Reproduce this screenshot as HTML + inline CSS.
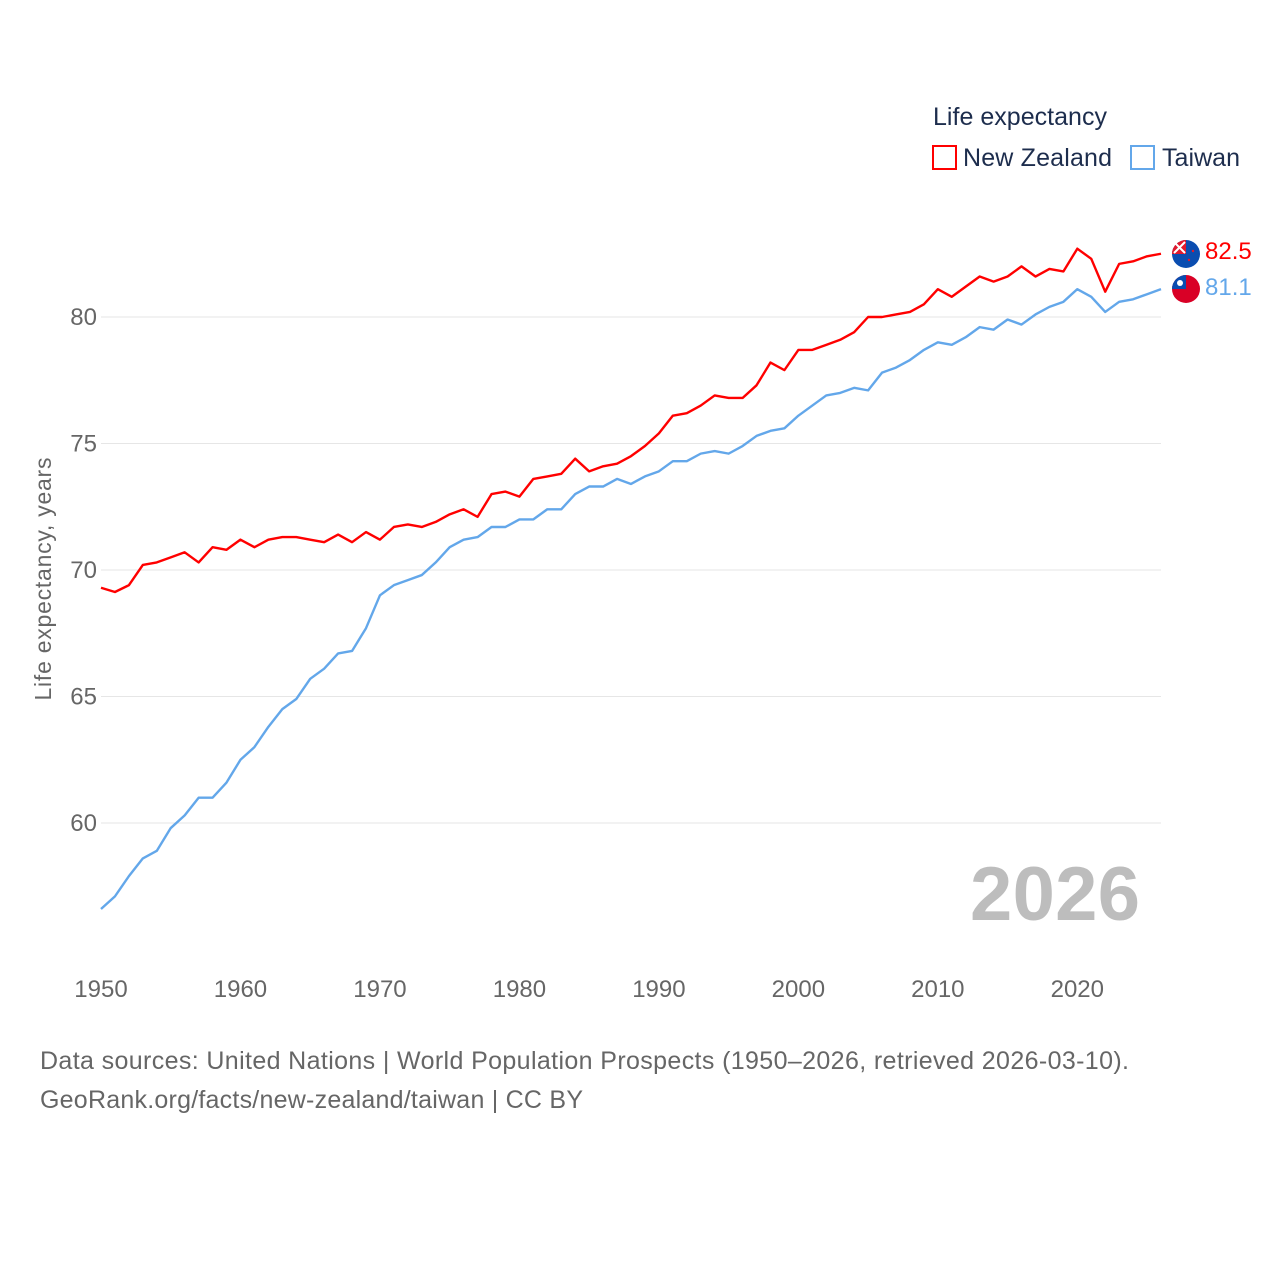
<!DOCTYPE html>
<html><head><meta charset="utf-8"><style>
body{margin:0;background:#fff;font-family:"Liberation Sans",sans-serif}
svg text{font-family:"Liberation Sans",sans-serif}
</style></head><body>
<svg width="1280" height="1280" viewBox="0 0 1280 1280">
<g id="grid"></g><g id="lines"></g>
<text x="933" y="125" font-size="25" fill="#1d2d4d" textLength="174">Life expectancy</text>
<rect x="933" y="146" width="23" height="23" fill="none" stroke="#ff0000" stroke-width="2"/>
<text x="963" y="166" font-size="25" fill="#1d2d4d" textLength="149">New Zealand</text>
<rect x="1131" y="146" width="23" height="23" fill="none" stroke="#63a7ea" stroke-width="2"/>
<text x="1162" y="166" font-size="25" fill="#1d2d4d" textLength="78">Taiwan</text>
<text transform="translate(51,579) rotate(-90)" text-anchor="middle" font-size="23" fill="#666" textLength="243">Life expectancy, years</text>
<text x="1140" y="920" text-anchor="end" font-size="76" font-weight="bold" fill="#bdbdbd" textLength="170">2026</text>
<text x="40" y="1069" font-size="25" fill="#666" textLength="1089">Data sources: United Nations | World Population Prospects (1950–2026, retrieved 2026-03-10).</text>
<text x="40" y="1108" font-size="25" fill="#666" textLength="543">GeoRank.org/facts/new-zealand/taiwan | CC BY</text>
<g>
<circle cx="1186" cy="254" r="14" fill="#0a4db0"/><path d="M1186 254 L1172 254 A14 14 0 0 1 1186 240 Z" fill="#e0192d"/><path d="M1174 242 L1185 253 M1185 242 L1174 253" stroke="#fff" stroke-width="2"/><circle cx="1193" cy="251" r="1.2" fill="#e0192d"/><circle cx="1189" cy="260" r="1.2" fill="#e0192d"/></g>
<g>
<circle cx="1186" cy="289" r="14" fill="#d90026"/><path d="M1186 289 L1172 289 A14 14 0 0 1 1186 275 Z" fill="#0a4db0"/><circle cx="1180" cy="283" r="3" fill="#fff"/></g>
<text x="1205" y="259" font-size="24" fill="#ff0000">82.5</text>
<text x="1205" y="295" font-size="24" fill="#63a7ea">81.1</text>
</svg>
<script>
const years=[];for(let y=1950;y<=2026;y++)years.push(y);
const nzValues=[69.3,69.13,69.4,70.2,70.3,70.5,70.7,70.3,70.9,70.8,71.2,70.9,71.2,71.3,71.3,71.2,71.1,71.4,71.1,71.5,71.2,71.7,71.8,71.7,71.9,72.2,72.4,72.1,73.0,73.1,72.9,73.6,73.7,73.8,74.4,73.9,74.1,74.2,74.5,74.9,75.4,76.1,76.2,76.5,76.9,76.8,76.8,77.3,78.2,77.9,78.7,78.7,78.9,79.1,79.4,80.0,80.0,80.1,80.2,80.5,81.1,80.8,81.2,81.6,81.4,81.6,82.0,81.6,81.9,81.8,82.7,82.3,81.0,82.1,82.2,82.4,82.5];
const twValues=[56.6,57.1,57.9,58.6,58.9,59.8,60.3,61.0,61.0,61.6,62.5,63.0,63.8,64.5,64.9,65.7,66.1,66.7,66.8,67.7,69.0,69.4,69.6,69.8,70.3,70.9,71.2,71.3,71.7,71.7,72.0,72.0,72.4,72.4,73.0,73.3,73.3,73.6,73.4,73.7,73.9,74.3,74.3,74.6,74.7,74.6,74.9,75.3,75.5,75.6,76.1,76.5,76.9,77.0,77.2,77.1,77.8,78.0,78.3,78.7,79.0,78.9,79.2,79.6,79.5,79.9,79.7,80.1,80.4,80.6,81.1,80.8,80.2,80.6,80.7,80.9,81.1];
const yTicks=[60,65,70,75,80];
const xTicks=[1950,1960,1970,1980,1990,2000,2010,2020];
const NS='http://www.w3.org/2000/svg';
const xS=y=>101+(y-1950)*(1060/76);
const yS=v=>317+(80-v)*25.3;
const grid=document.getElementById('grid'),lines=document.getElementById('lines');
function mk(t,a,p){const e=document.createElementNS(NS,t);for(const k in a)e.setAttribute(k,a[k]);p.appendChild(e);return e;}
yTicks.forEach(v=>{
 const l=mk('line',{x1:101,x2:1161,y1:yS(v),y2:yS(v),stroke:'#e6e6e6','stroke-width':1},grid);
 
 
 const t=mk('text',{x:97,y:yS(v)+8,'text-anchor':'end','font-size':24,fill:'#666'},grid);t.textContent=v;
 
 
});
xTicks.forEach(v=>{
 const t=mk('text',{x:xS(v),y:997,'text-anchor':'middle','font-size':24,fill:'#666'},grid);t.textContent=v;
 
 
});
function line(vals,col,name){
 const p=mk('polyline',{points:vals.map((v,i)=>xS(years[i])+','+yS(v)).join(' '),fill:'none',stroke:col,'stroke-width':2.4,'stroke-linejoin':'round'},lines);
 
 
}
line(twValues,'#63a7ea','line-taiwan');
line(nzValues,'#ff0000','line-new-zealand');
</script>
</body></html>
